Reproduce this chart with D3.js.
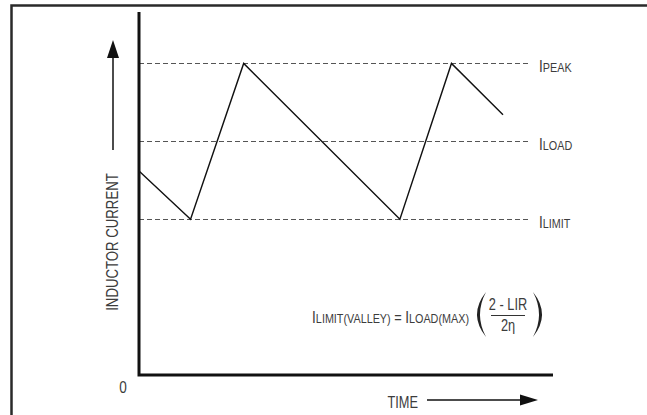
<!DOCTYPE html>
<html>
<head>
<meta charset="utf-8">
<script src="https://cdn.jsdelivr.net/npm/d3@7"></script>
<style>
  body { margin: 0; background: #fff; }
  svg { display: block; }
  text { font-family: "Liberation Sans", Arial, sans-serif; fill: #3c3c3c; }
</style>
</head>
<body>
<div id="chart"></div>
<script>
/* current levels (arbitrary units) and their labels */
var levelNames = ["PEAK", "LOAD", "LIMIT"],
    levelValues = [20, 15, 10];

/* inductor current waveform: time vs current */
var waveTime = [0, 3.3, 6.7, 16.7, 20, 23.3],
    waveCurrent = [13.1, 10, 20, 10, 20, 16.7];

var xDomain = [0, 26.5],
    yDomain = [0, 23.3],
    zeroLabel = "0",
    yLabel = "INDUCTOR CURRENT",
    xLabel = "TIME";

var width = 647, height = 415;
var narrow = 0.8;  /* squeeze text horizontally, the original uses a condensed face */

var x = d3.scaleLinear().domain(xDomain).range([139, 553]),
    y = d3.scaleLinear().domain(yDomain).range([375, 12]);

var svg = d3.select("#chart").append("svg")
    .attr("width", width)
    .attr("height", height);

svg.append("rect")
    .attr("width", width)
    .attr("height", height)
    .attr("fill", "#fff");

function place(px, py, extra) {
  return "translate(" + px + "," + py + ")" + (extra || "") + " scale(" + narrow + ",1)";
}

/* outer frame, only top and left edges show */
svg.append("path")
    .attr("d", "M11.5," + height + "V5.5H" + width)
    .attr("fill", "none")
    .attr("stroke", "#2a2a2a")
    .attr("stroke-width", 2.5);

/* dashed reference levels */
var dashEnd = 528;
svg.selectAll("line.level")
    .data(levelValues)
  .enter().append("line")
    .attr("class", "level")
    .attr("x1", x(0))
    .attr("x2", dashEnd)
    .attr("y1", function(d) { return Math.round(y(d)) + 0.5; })
    .attr("y2", function(d) { return Math.round(y(d)) + 0.5; })
    .attr("stroke", "#555")
    .attr("stroke-width", 1)
    .attr("stroke-dasharray", "5,3");

var labels = svg.selectAll("text.level")
    .data(levelNames)
  .enter().append("text")
    .attr("class", "level")
    .attr("transform", function(d, i) { return place(539, Math.round(y(levelValues[i])) + 9); });
labels.append("tspan").style("font-size", "17px").text("I");
labels.append("tspan").style("font-size", "13.5px").text(function(d) { return d; });

/* waveform */
var wave = waveTime.map(function(t, i) { return {t: t, c: waveCurrent[i]}; });
var line = d3.line()
    .x(function(d) { return x(d.t); })
    .y(function(d) { return y(d.c); });

svg.append("path")
    .datum(wave)
    .attr("d", line)
    .attr("fill", "none")
    .attr("stroke", "#111")
    .attr("stroke-width", 1.4);

/* axes */
svg.append("path")
    .attr("d", "M" + x(0) + "," + y(yDomain[1]) + "V" + y(0) + "H" + x(xDomain[1]))
    .attr("fill", "none")
    .attr("stroke", "#111")
    .attr("stroke-width", 3);

svg.append("text")
    .attr("transform", place(123, 393))
    .attr("text-anchor", "middle")
    .style("font-size", "17px")
    .text(zeroLabel);

/* y label with upward arrow */
svg.append("text")
    .attr("transform", place(118, 242, " rotate(-90)"))
    .attr("text-anchor", "middle")
    .style("font-size", "16.5px")
    .text(yLabel);

svg.append("line")
    .attr("x1", 113).attr("x2", 113)
    .attr("y1", 150).attr("y2", 56)
    .attr("stroke", "#111")
    .attr("stroke-width", 1.5);
svg.append("path")
    .attr("d", "M113,40L119,58H107Z")
    .attr("fill", "#111");

/* x label with right arrow */
svg.append("text")
    .attr("transform", place(418, 408))
    .attr("text-anchor", "end")
    .style("font-size", "16px")
    .text(xLabel);

svg.append("line")
    .attr("x1", 427).attr("x2", 522)
    .attr("y1", 400).attr("y2", 400)
    .attr("stroke", "#111")
    .attr("stroke-width", 1.5);
svg.append("path")
    .attr("d", "M538,400L520,394.5V405.5Z")
    .attr("fill", "#111");

/* formula */
var f = svg.append("text")
    .attr("transform", place(469, 323))
    .attr("text-anchor", "end");
f.append("tspan").style("font-size", "17px").text("I");
f.append("tspan").style("font-size", "13.5px").text("LIMIT(VALLEY)");
f.append("tspan").style("font-size", "16px").text(" = ");
f.append("tspan").style("font-size", "17px").text("I");
f.append("tspan").style("font-size", "13.5px").text("LOAD(MAX)");

svg.append("path")
    .attr("d", "M486,292Q468,314.5 486,337Q474,314.5 486,292Z")
    .attr("fill", "#222");
svg.append("path")
    .attr("d", "M533,292Q551,314.5 533,337Q545,314.5 533,292Z")
    .attr("fill", "#222");

svg.append("text")
    .attr("transform", place(508, 310))
    .attr("text-anchor", "middle")
    .style("font-size", "16px")
    .text("2 - LIR");
svg.append("line")
    .attr("x1", 491).attr("x2", 525)
    .attr("y1", 315.5).attr("y2", 315.5)
    .attr("stroke", "#333")
    .attr("stroke-width", 1);
svg.append("text")
    .attr("transform", place(508, 331))
    .attr("text-anchor", "middle")
    .style("font-size", "16px")
    .text("2\u03b7");
</script>
</body>
</html>
